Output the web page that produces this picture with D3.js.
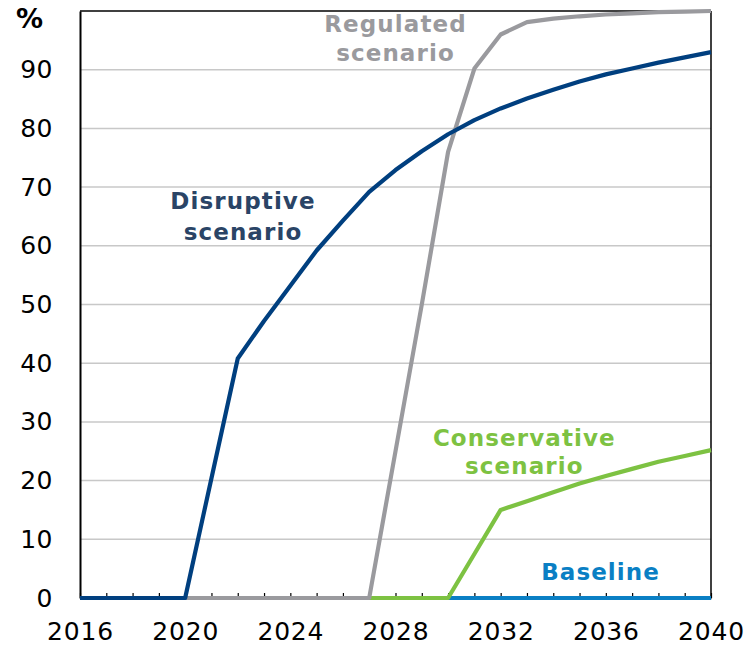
<!DOCTYPE html>
<html><head><meta charset="utf-8">
<script src="https://cdn.jsdelivr.net/npm/d3@7/dist/d3.min.js"></script>
<style>body{margin:0;background:#fff}svg{display:block}</style>
</head><body><svg id="c" width="748" height="647"></svg>
<script>
const years = d3.range(2016, 2041);
const yTicks = [0,10,20,30,40,50,60,70,80,90];
const xTicks = [2016,2020,2024,2028,2032,2036,2040];
const baseline     = [0,0,0,0,0,0,0,0,0,0,0,0,0,0,0,0,0,0,0,0,0,0,0,0,0];
const conservative = [0,0,0,0,0,0,0,0,0,0,0,0,0,0,0,7.5,15,16.5,18,19.5,20.8,22,23.2,24.2,25.2];
const regulated    = [0,0,0,0,0,0,0,0,0,0,0,0,25,50,76,90.2,96,98.1,98.7,99.1,99.4,99.6,99.8,99.9,100];
const disruptive   = [0,0,0,0,0,20.4,40.8,47.2,53.2,59.2,64.3,69.2,72.9,76.1,79,81.4,83.4,85.1,86.6,88,89.2,90.2,91.2,92.1,93];

const series = [
  {name:"Baseline", values:baseline, color:"#0a7fc4"},
  {name:"Conservative", values:conservative, color:"#7dc242"},
  {name:"Regulated", values:regulated, color:"#9a9a9e"},
  {name:"Disruptive", values:disruptive, color:"#003f7f"}
];

const L=80, R=711, T=11, B=598;
const svg = d3.select("#c");
const x = d3.scaleLinear().domain([2016,2040]).range([L,R]);
const y = d3.scaleLinear().domain([0,100]).range([B,T]);
const font = "'DejaVu Sans', Verdana, sans-serif";

// grid
svg.append("g").selectAll("line").data(yTicks.filter(d=>d>0)).join("line")
  .attr("x1",L).attr("x2",R).attr("y1",d=>y(d)).attr("y2",d=>y(d))
  .attr("stroke","#c8c8c8").attr("stroke-width",1.5);

// frame
svg.append("line").attr("x1",L).attr("x2",R).attr("y1",T).attr("y2",T).attr("stroke","#000").attr("stroke-width",1.5);
svg.append("line").attr("x1",R).attr("x2",R).attr("y1",T).attr("y2",B).attr("stroke","#000").attr("stroke-width",1.5);

// y axis
const ya = svg.append("g").attr("transform",`translate(${L},0)`)
  .call(d3.axisLeft(y).tickValues(yTicks).tickSize(0).tickPadding(27));
ya.select(".domain").attr("stroke","#000").attr("stroke-width",2);
ya.selectAll("text").attr("font-family",font).attr("font-size",25).attr("letter-spacing","0.5px").attr("fill","#000");

// x axis with inward yearly ticks
const xa = svg.append("g").attr("transform",`translate(0,${B})`)
  .call(d3.axisBottom(x).tickValues(years).tickSizeInner(-5).tickSizeOuter(0).tickPadding(19).tickFormat(d=>xTicks.includes(d)?d:""));
xa.select(".domain").attr("stroke","#000").attr("stroke-width",1.5);
xa.selectAll(".tick line").attr("stroke","#000").attr("stroke-width",1.2);
xa.selectAll("text").attr("font-family",font).attr("font-size",25).attr("letter-spacing","0.8px").attr("fill","#000").attr("dy","0.9em");

// lines
const line = d3.line().x((d,i)=>x(years[i])).y(d=>y(d));
svg.append("g").selectAll("path").data(series).join("path")
  .attr("d",d=>line(d.values)).attr("fill","none")
  .attr("stroke",d=>d.color).attr("stroke-width",4.2).attr("stroke-linejoin","round");

// labels
const labels = [
  {lines:["Regulated","scenario"], x:2028.0, y:[32,61], color:"#9a9a9e"},
  {lines:["Disruptive","scenario"], x:2022.2, y:[209,240], color:"#2a4466"},
  {lines:["Conservative","scenario"], x:2032.9, y:[446,474], color:"#7dc242"},
  {lines:["Baseline"], x:2035.8, y:[580], color:"#0a7fc4"}
];
labels.forEach(l=>{
  l.lines.forEach((t,i)=>{
    svg.append("text").attr("x",x(l.x)).attr("y",l.y[i]).attr("text-anchor","middle")
      .attr("font-family",font).attr("font-weight","bold").attr("font-size",23)
      .attr("letter-spacing","1.1px")
      .attr("fill",l.color).text(t);
  });
});
svg.append("text").attr("x",16).attr("y",28).attr("font-family",font).attr("font-weight","bold")
  .attr("font-size",27).attr("fill","#000").text("%");
</script></body></html>
